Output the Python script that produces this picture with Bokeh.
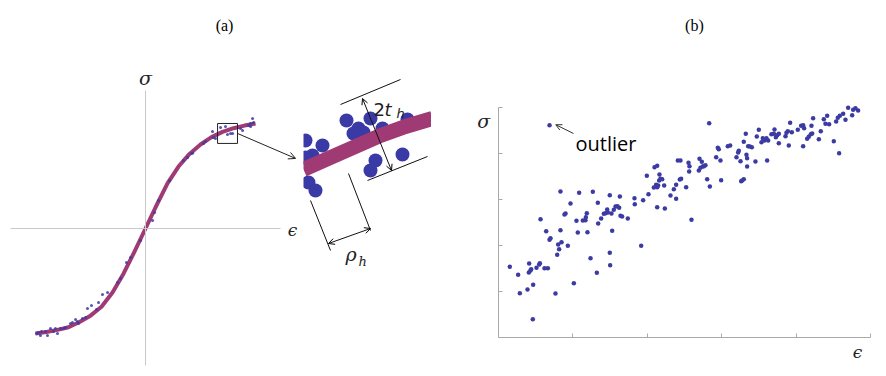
from bokeh.plotting import figure
from bokeh.layouts import row
from bokeh.models import Range1d, FixedTicker, LinearAxis, Arrow, OpenHead
from bokeh.core.properties import value
from bokeh.embed import file_html
from bokeh.resources import INLINE

# ---------------- data: panel (a) ----------------
eps_curve = [-1.0, -0.9, -0.8, -0.7, -0.6, -0.5, -0.4, -0.3, -0.2, -0.1, 0.0,
             0.1, 0.2, 0.3, 0.4, 0.5, 0.6, 0.7, 0.8, 0.9, 1.0]
sig_curve = [-1.0, -0.985, -0.965, -0.94, -0.89, -0.83, -0.745, -0.61, -0.43, -0.22, 0.0,
             0.22, 0.43, 0.59, 0.71, 0.80, 0.87, 0.92, 0.955, 0.98, 1.0]

eps_pts = [-0.991, -0.973, -0.955, -0.945, -0.909, -0.891, -0.864, -0.836, -0.8, -0.818,
           -0.773, -0.745, -0.727, -0.682, -0.664, -0.636, -0.618, -0.609, -0.573, -0.545,
           -0.527, -0.491, -0.445, -0.427, -0.391, -0.345, -0.255, -0.227, -0.173, -0.136,
           -0.045, 0.064, 0.082, 0.118, 0.218, 0.345, 0.382, 0.418, 0.43, 0.527,
           0.545, 0.609, 0.618, 0.636, 0.682, 0.727, 0.745, 0.773, 0.791, 0.864,
           0.882, 0.936, 0.955, 0.973, 0.982, 0.955]
sig_pts = [-1.0, -0.99, -1.019, -0.981, -0.981, -1.019, -0.952, -0.981, -1.0, -0.952,
           -0.952, -0.952, -0.943, -0.905, -0.895, -0.867, -0.886, -0.905, -0.857, -0.848,
           -0.762, -0.733, -0.771, -0.705, -0.629, -0.61, -0.514, -0.476, -0.324, -0.276,
           -0.114, 0.076, 0.152, 0.267, 0.457, 0.648, 0.676, 0.714, 0.72, 0.81,
           0.829, 0.924, 0.867, 0.857, 0.962, 0.971, 0.895, 0.905, 0.905, 0.952,
           0.933, 0.981, 1.0, 1.048, 1.01, 0.971]

zoom_box = (0.655, 0.836, 0.81, 1.0)  # eps0, eps1, sig0, sig1

# ---------------- data: inset (local units) ----------------
band_u = [0, 27, 52, 77, 102, 129]
band_v = [199, 211, 222, 233, 242, 250]
circ_u = [43, 55, 50, 60, 67, 79, 104, 19, 9, 2, 2, 5, 12, 72, 67, 99]
circ_v = [248, 240, 235, 236, 250, 240, 249, 223, 213, 211, 228, 186, 178, 208, 198, 214]

# ---------------- data: panel (b) ----------------
bx = [0.152, 0.264, 0.287, 0.390, 0.412, 0.408, 0.430, 0.439, 0.466, 0.461,
      0.511, 0.547, 0.556, 0.565, 0.618, 0.641, 0.663, 0.686, 0.699, 0.766,
      0.789, 0.802, 0.815, 0.833, 0.833, 0.847, 0.887, 0.901, 0.932, 0.968,
      1.013, 1.048, 1.066, 1.084, 1.134, 1.169, 1.174, 1.187, 1.196, 1.237,
      1.268, 1.322, 1.335, 1.340, 1.380, 1.416, 1.438, 1.461, 1.470, 1.496,
      1.496, 1.501, 1.519, 1.528, 1.550, 1.573, 1.599, 1.622, 1.631, 1.640,
      1.662, 1.738, 1.828, 1.832, 1.918, 1.944, 1.994, 2.016, 2.088, 2.097,
      2.119, 2.133, 2.133, 2.133, 2.146, 2.159, 2.164, 2.177, 2.200, 2.227,
      2.236, 2.312, 2.357, 2.388, 2.388, 2.437, 2.455, 2.410, 2.446, 2.522,
      2.554, 2.567, 2.563, 2.594, 2.693, 2.702, 2.715, 2.733, 2.746, 2.760,
      2.782, 2.805, 2.841, 2.832, 2.926, 2.948, 2.961, 2.984, 2.993, 3.082,
      3.114, 3.199, 3.221, 3.230, 3.253, 3.262, 3.275, 3.297, 3.297, 3.324,
      3.333, 3.342, 3.342, 3.356, 3.378, 3.405, 3.454, 3.472, 3.499, 3.535,
      3.553, 3.575, 3.602, 3.611, 3.625, 3.669, 3.701, 3.710, 3.728, 3.746,
      3.768, 3.768, 3.858, 3.871, 3.889, 3.902, 3.920, 3.943, 4.023, 4.068,
      4.095, 4.095, 4.108, 4.149, 4.171, 4.198, 4.207, 4.216, 4.229, 4.306,
      4.332, 4.373, 4.395, 4.418, 4.444, 4.507, 4.539, 4.561, 4.579, 4.588,
      4.633, 4.664, 4.700, 4.754, 4.767, 4.798, 4.834]
by = [1.536, 1.362, 0.964, 1.043, 1.609, 1.413, 1.457, 1.486, 1.145, 0.399,
      1.514, 1.587, 1.616, 2.572, 1.507, 2.312, 1.507, 2.123, 2.159, 0.957,
      1.797, 2.022, 1.920, 3.174, 2.333, 2.072, 2.674, 2.696, 1.993, 2.913,
      1.181, 2.536, 2.283, 3.145, 2.543, 2.551, 2.616, 2.703, 2.290, 1.725,
      3.167, 1.406, 2.928, 2.478, 2.587, 2.688, 2.703, 2.783, 2.717, 3.094,
      1.841, 1.572, 2.696, 2.319, 2.775, 2.848, 2.855, 2.819, 3.065, 2.645,
      2.630, 2.587, 3.029, 2.899, 1.993, 2.986, 3.514, 3.116, 3.261, 3.703,
      3.319, 3.732, 2.833, 3.268, 3.304, 3.413, 3.543, 3.449, 3.442, 3.304,
      2.804, 3.087, 3.225, 3.319, 3.014, 3.435, 3.449, 3.848, 3.848, 3.268,
      3.797, 3.725, 3.609, 2.558, 3.630, 3.884, 3.688, 3.819, 3.717, 3.725,
      3.746, 3.442, 3.283, 4.659, 3.920, 4.123, 4.094, 3.848, 3.420, 4.159,
      4.174, 3.920, 4.022, 4.058, 3.833, 3.399, 3.413, 3.442, 4.254, 4.428,
      3.971, 3.899, 3.717, 4.159, 4.152, 4.138, 3.826, 4.370, 4.514, 4.246,
      4.333, 4.283, 4.333, 3.848, 4.283, 4.420, 4.428, 4.522, 4.355, 4.399,
      4.225, 4.428, 4.377, 4.449, 4.486, 4.174, 4.667, 4.464, 4.514, 4.601,
      4.159, 4.616, 4.551, 4.319, 4.362, 4.420, 4.601, 4.435, 4.768, 4.312,
      4.486, 4.746, 4.645, 4.819, 4.638, 4.268, 4.696, 4.775, 4.007, 4.819,
      4.862, 4.732, 4.993, 4.833, 4.949, 4.986, 4.935]
outlier_x = [0.686]
outlier_y = [4.616]
b_ticks = [1, 2, 3, 4, 5]

# ---------------- styles ----------------
MAGENTA = "#a03a74"
BLUE = "#3b3ba3"
SERIF = value("Liberation Serif")
MATH = value("DejaVu Serif")
H = 368


def base(w, xr, yr):
    p = figure(width=w, height=H, x_range=Range1d(*xr), y_range=Range1d(*yr),
               output_backend="svg", toolbar_location=None,
               x_axis_type=None, y_axis_type=None, min_border=0,
               outline_line_color=None, background_fill_color="white",
               border_fill_color="white")
    return p


# ================= panel (a) =================
pa = base(303, (-1.318, 1.436), (-1.333, 2.171))
for loc, lo, hi in (("below", -1.227, 1.227), ("left", -1.305, 1.314)):
    ax = LinearAxis(fixed_location=0, bounds=(lo, hi), ticker=FixedTicker(ticks=[]),
                    axis_line_color="#c9c9c9", axis_line_width=1,
                    major_tick_line_color=None, minor_tick_line_color=None,
                    major_label_text_color=None)
    pa.add_layout(ax, loc)

pa.line(eps_curve, sig_curve, line_color=MAGENTA, line_width=4, line_join="round")
pa.scatter(eps_pts, sig_pts, size=3, fill_color=BLUE, line_color=None, alpha=0.85)
pa.quad(left=[zoom_box[0]], right=[zoom_box[1]], bottom=[zoom_box[2]], top=[zoom_box[3]],
        fill_color=None, line_color="#222222", line_width=1)
pa.add_layout(Arrow(end=OpenHead(size=7, line_width=1, line_color="#222222"),
                    x_start=zoom_box[1], y_start=0.905, x_end=1.364, y_end=0.667,
                    line_color="#222222", line_width=1))
pa.text(x=[0.718], y=[1.933], text=["(a)"], text_font=SERIF, text_font_size="16px",
        text_align="center", text_baseline="middle", text_color="black")
pa.text(x=[0.0], y=[1.43], text=["σ"], text_font=MATH, text_font_style="italic",
        text_font_size="19px", text_align="center", text_baseline="middle", text_color="#222222")
pa.text(x=[1.336], y=[-0.01], text=["ϵ"], text_font=MATH, text_font_style="italic",
        text_font_size="17px", text_align="center", text_baseline="middle", text_color="#222222")

# ================= inset =================
pi = base(128, (0, 128), (0, H))
pi.scatter(circ_u, circ_v, size=14, fill_color="#3a3aa6", line_color=None)
pi.line(band_u, band_v, line_color=MAGENTA, line_width=15, line_cap="butt", line_join="round")
# dimension: 2t_h
pi.segment(x0=[37, 64], y0=[264, 188], x1=[97, 124], y1=[289, 212], line_color="#111111", line_width=1)
pi.add_layout(Arrow(start=OpenHead(size=6, line_width=1), end=OpenHead(size=6, line_width=1),
                    x_start=59, y_start=270, x_end=88, y_end=198, line_color="#111111", line_width=1))
pi.text(x=[70], y=[259], text=["2"], text_font=value("DejaVu Sans"), text_font_size="18px",
        text_baseline="alphabetic", text_color="#222222")
pi.text(x=[81], y=[259], text=["t"], text_font=value("DejaVu Sans"), text_font_style="italic",
        text_font_size="18px", text_baseline="alphabetic", text_color="#222222")
pi.text(x=[93], y=[255], text=["h"], text_font=value("DejaVu Sans"), text_font_style="italic",
        text_font_size="13px", text_baseline="alphabetic", text_color="#222222")
# dimension: rho_h
pi.segment(x0=[7, 45], y0=[168, 195], x1=[27, 67], y1=[118, 138], line_color="#111111", line_width=1)
pi.add_layout(Arrow(start=OpenHead(size=6, line_width=1), end=OpenHead(size=6, line_width=1),
                    x_start=25, y_start=125, x_end=67, y_end=140, line_color="#111111", line_width=1))
pi.text(x=[42], y=[115], text=["ρ"], text_font=MATH, text_font_style="italic",
        text_font_size="19px", text_baseline="alphabetic", text_color="#222222")
pi.text(x=[55], y=[107], text=["h"], text_font=MATH, text_font_style="italic",
        text_font_size="13px", text_baseline="alphabetic", text_color="#222222")

# ================= panel (b) =================
pb = base(447, (-0.9005, 5.108), (-0.674, 7.326))
for loc in ("below", "left"):
    ax = LinearAxis(fixed_location=0, bounds=(0, 5), ticker=FixedTicker(ticks=b_ticks),
                    axis_line_color="#a9a9a9", axis_line_width=1,
                    major_tick_line_color="#a9a9a9", major_tick_in=4, major_tick_out=0,
                    minor_tick_line_color=None, major_label_text_color=None)
    pb.add_layout(ax, loc)

pb.scatter(bx, by, size=4.5, fill_color=BLUE, line_color=None)
pb.scatter(outlier_x, outlier_y, size=4.5, fill_color=BLUE, line_color=None)
pb.add_layout(Arrow(end=OpenHead(size=6, line_width=1, line_color="#333333"),
                    x_start=1.008, y_start=4.435, x_end=0.77, y_end=4.625,
                    line_color="#333333", line_width=1))
pb.text(x=[1.035], y=[4.22], text=["outlier"], text_font=value("Open Sans"), text_font_size="20px",
        text_align="left", text_baseline="middle", text_color="black")
pb.text(x=[2.634], y=[6.783], text=["(b)"], text_font=SERIF, text_font_size="16px",
        text_align="center", text_baseline="middle", text_color="black")
pb.text(x=[-0.2], y=[4.717], text=["σ"], text_font=MATH, text_font_style="italic",
        text_font_size="19px", text_align="center", text_baseline="middle", text_color="#222222")
pb.text(x=[4.825], y=[-0.326], text=["ϵ"], text_font=MATH, text_font_style="italic",
        text_font_size="17px", text_align="center", text_baseline="middle", text_color="#222222")

layout = row(pa, pi, pb, spacing=0)
open("out.html", "w").write(file_html(layout, INLINE))
